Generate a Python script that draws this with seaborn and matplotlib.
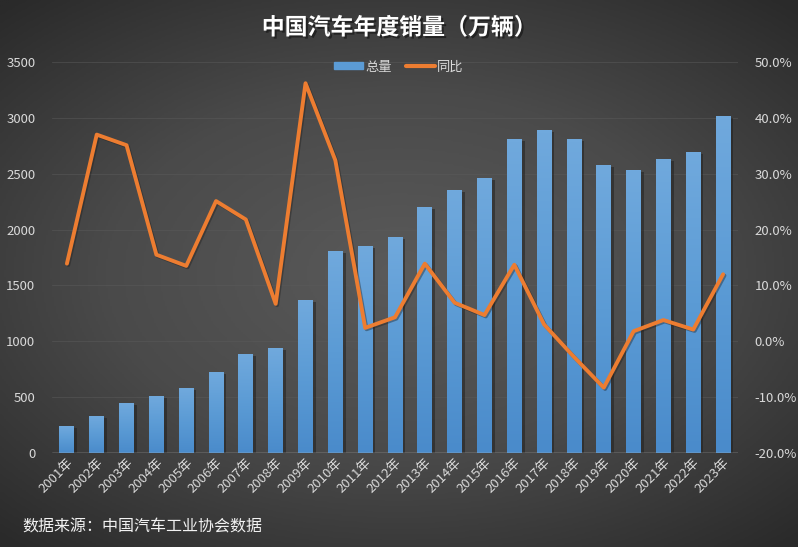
"""
China annual auto sales (10k units) with YoY growth, dark theme.
"""

import matplotlib.pyplot as plt
import matplotlib.patheffects as pe
import matplotlib.ticker as mticker
from matplotlib.patches import Patch
from matplotlib.lines import Line2D
import seaborn as sns
import numpy as np

years = [f"{y}年" for y in range(2001, 2024)]
sales = [236.4, 325.1, 439.1, 507.1, 575.8, 721.6, 879.2, 938.1, 1364.5, 1806.2,
         1850.5, 1930.6, 2198.4, 2349.2, 2459.8, 2802.8, 2887.9, 2808.1, 2576.9,
         2531.1, 2627.5, 2686.4, 3009.4]
yoy = [13.9, 37.0, 35.1, 15.5, 13.5, 25.1, 21.8, 6.7, 46.2, 32.4,
       2.4, 4.3, 13.9, 6.9, 4.7, 13.7, 3.0, -2.8, -8.3,
       1.8, 3.8, 2.1, 12.0]

sns.set_style("dark")
plt.rcParams["font.family"] = ["Noto Sans CJK SC", "DejaVu Sans"]
plt.rcParams["axes.unicode_minus"] = False

BLUE = "#5b9bd5"
ORANGE = "#ed7d31"
TICK = "#d9d9d9"

fig = plt.figure(figsize=(7.98, 5.47), dpi=100)

# radial gradient background
bg = fig.add_axes([0, 0, 1, 1], zorder=-10)
yy, xx = np.mgrid[-1:1:300j, -1:1:400j]
r = np.sqrt((xx * 0.95) ** 2 + (yy * 1.05) ** 2)
bg.imshow(np.clip(r, 0, 1.4), cmap=sns.blend_palette(["#5a5a5a", "#4a4a4a", "#2a2a2a"], as_cmap=True),
          aspect="auto", extent=[0, 1, 0, 1], vmin=0, vmax=1.4)
bg.axis("off")

ax = fig.add_axes([52 / 798, 1 - 453 / 547, (738 - 52) / 798, (453 - 62) / 547])
ax.set_facecolor("none")

sns.barplot(x=years, y=sales, color=BLUE, width=0.5, ax=ax, saturation=1, zorder=2,
            linewidth=0, edgecolor="none")

# vertical gradient on each bar + soft shadow
grad = np.linspace(0, 1, 100).reshape(-1, 1)
bar_cmap = sns.blend_palette(["#4a8bcb", "#5b9bd5", "#70a9dd"], as_cmap=True)
for p in ax.patches:
    x0, w, h = p.get_x(), p.get_width(), p.get_height()
    p.set_path_effects([pe.SimplePatchShadow(offset=(2, -1), shadow_rgbFace="#1e1e1e", alpha=0.5), pe.Normal()])
    ax.imshow(grad, cmap=bar_cmap, aspect="auto", origin="lower",
              extent=[x0, x0 + w, 0, h], zorder=3)

ax.set_xlim(-0.5, len(years) - 0.5)
ax.set_ylim(0, 3500)
ax.yaxis.set_major_locator(mticker.MultipleLocator(500))
ax.grid(axis="y", color="#5a5a5a", linewidth=0.8, alpha=0.5)
ax.grid(axis="x", visible=False)
ax.set_axisbelow(True)
for s in ax.spines.values():
    s.set_visible(False)
ax.axhline(0, color="#bfbfbf", linewidth=1.0, zorder=5)
ax.tick_params(axis="y", colors=TICK, labelsize=9.5, length=0, pad=12)
ax.tick_params(axis="x", colors=TICK, labelsize=9.5, length=0, pad=2)
plt.setp(ax.get_xticklabels(), rotation=45, ha="right", rotation_mode="anchor")
ax.set_xlabel("")
ax.set_ylabel("")

ax2 = ax.twinx()
sns.lineplot(x=np.arange(len(years)), y=yoy, color=ORANGE, linewidth=2.8, ax=ax2, zorder=6,
             path_effects=[pe.SimpleLineShadow(offset=(1, -1), shadow_color="#1e1e1e", alpha=0.4), pe.Normal()])
ax2.set_ylim(-20, 50)
ax2.yaxis.set_major_locator(mticker.MultipleLocator(10))
ax2.yaxis.set_major_formatter(mticker.FuncFormatter(lambda v, _: f"{v:.1f}%"))
ax2.tick_params(axis="y", colors=TICK, labelsize=9.5, length=0, pad=12)
ax2.grid(False)
for s in ax2.spines.values():
    s.set_visible(False)
ax2.set_xlim(-0.5, len(years) - 0.5)

# legend
handles = [Patch(color=BLUE, label="总量"), Line2D([0], [0], color=ORANGE, linewidth=3, label="同比")]
fig.legend(handles=handles, loc="center", bbox_to_anchor=(0.5, 1 - 67 / 547), ncol=2,
           frameon=False, fontsize=9.5, handlelength=2.2, handleheight=0.4,
           columnspacing=1.0, handletextpad=0.2, labelcolor=TICK)

fig.text(0.5, 1 - 28 / 547, "中国汽车年度销量（万辆）", ha="center", va="center",
         fontsize=16.5, fontweight="bold", color="white",
         path_effects=[pe.withSimplePatchShadow(offset=(1.5, -1.5), shadow_rgbFace="#111111", alpha=0.6)])
fig.text(22 / 798, 1 - 527 / 547, "数据来源：中国汽车工业协会数据", ha="left", va="center",
         fontsize=11.5, color="#f2f2f2")

fig.savefig("out.png", dpi=100)
